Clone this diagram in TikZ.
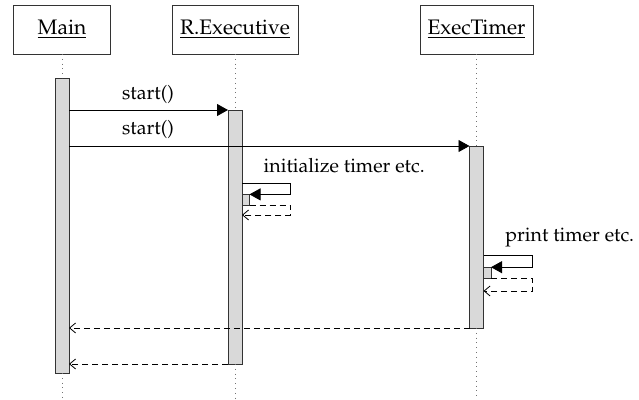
\documentclass[tikz,border=0pt]{standalone}
\usepackage[T1]{fontenc}
\usepackage{mathpazo}
\usetikzlibrary{arrows.meta}

\begin{document}
\begin{tikzpicture}[x=0.5pt,y=-0.5pt,
  every node/.style={font=\fontsize{9.8}{12}\selectfont},
  head/.style={draw=black!80, minimum height=24.5pt, inner sep=0pt, outer sep=0pt,
               font=\fontsize{10.5}{12}\selectfont},
  act/.style={draw=black!80, fill=black!15, minimum width=7pt, inner sep=0pt, outer sep=0pt},
  subact/.style={draw=black!80, fill=black!15, minimum width=3.75pt, minimum height=5.6pt, inner sep=0pt, outer sep=0pt},
  life/.style={dotted, black!55},
  call/.style={-{Triangle[length=5.5pt,width=6pt]}},
  reply/.style={dash pattern=on 3pt off 2pt, -{Straight Barb[length=3pt,width=5pt]}},
  msg/.style={anchor=base, inner sep=0pt}
]
\useasboundingbox (0,0) rectangle (639,400);
\coordinate (bottom) at (0,400);

% object headers
\node[head, minimum width=48.5pt] (main)  at (62,29.5)    {\underline{Main}};
\node[head, minimum width=63pt]   (rexec) at (235,29.5)   {\underline{R.Executive}};
\node[head, minimum width=56.5pt] (timer) at (476.5,29.5) {\underline{ExecTimer}};

% activation bars
\node[act, minimum height=147.5pt] (mainact)  at (62,225.5) {};
\node[act, minimum height=127pt]   (rexact)   at (235,237)  {};
\node[act, minimum height=91pt]    (timeract) at (476.5,237) {};
\node[subact] (initact)  at (245.75,200) {};
\node[subact] (printact) at (487.25,272.8) {};

% lifelines
\draw[life] (main.south) -- (mainact.north);
\draw[life] (mainact.south) -- (mainact.south |- bottom);
\draw[life] (rexec.south) -- (rexact.north);
\draw[life] (rexact.south) -- (rexact.south |- bottom);
\draw[life] (timer.south) -- (timeract.north);
\draw[life] (timeract.south) -- (timeract.south |- bottom);

% calls
\draw[call] (mainact.east |- rexact.north) -- (rexact.north west);
\node[msg] (lstart1) at (148,100) {start()};
\draw[call] (mainact.east |- timeract.north) -- (timeract.north west);
\node[msg] (lstart2) at (148,135) {start()};

% self call: initialize
\coordinate (initturn) at (290.7,183.3);
\coordinate (initback) at (290.7,215);
\node[msg, anchor=base west] (linit) at (263.3,172.3) {initialize timer etc.};
\draw[call] (rexact.east |- initturn) -- (initturn) -- (initturn |- initact.north) -- (initact.north east);
\draw[reply] (initact.south east) -- (initact.south east -| initback) -- (initback) -- (rexact.east |- initback);

% self call: print
\coordinate (printturn) at (532.7,255.7);
\coordinate (printback) at (532.7,291);
\node[msg, anchor=base west] (lprint) at (505,241.7) {print timer etc.};
\draw[call] (timeract.east |- printturn) -- (printturn) -- (printturn |- printact.north) -- (printact.north east);
\draw[reply] (printact.south east) -- (printact.south east -| printback) -- (printback) -- (timeract.east |- printback);

% returns
\draw[reply] (timeract.south west) -- (mainact.east |- timeract.south);
\draw[reply] (rexact.south west) -- (mainact.east |- rexact.south);
\end{tikzpicture}
\end{document}
